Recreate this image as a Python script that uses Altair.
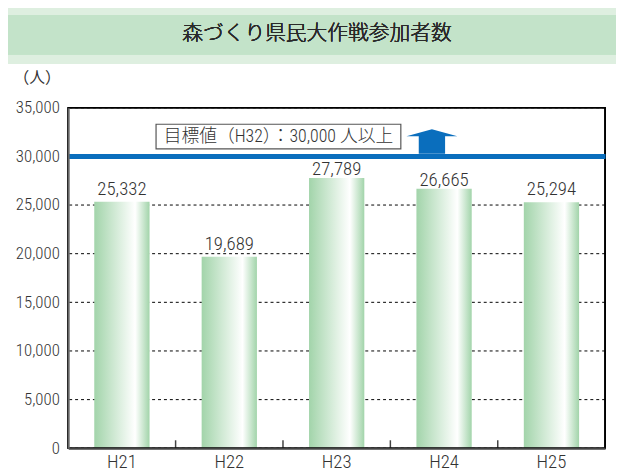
import altair as alt
import pandas as pd

# ---- data ----
years = ["H21", "H22", "H23", "H24", "H25"]
participants = [25332, 19689, 27789, 26665, 25294]
y_ticks = [0, 5000, 10000, 15000, 20000, 25000, 30000, 35000]
target_value = 30000
title_text = "森づくり県民大作戦参加者数"
unit_text = "（人）"
target_text = "目標値（H32）：30,000 人以上"
near_line_years = ["H23", "H24"]

df = pd.DataFrame({"year": years, "value": participants})
grid_df = pd.DataFrame({"value": y_ticks})
tick_df = pd.DataFrame({"year": years[1:]})

# ---- style ----
W, H = 544, 345
NUM = "Roboto Condensed, Liberation Sans, sans-serif"
JP = "Roboto Condensed, Noto Sans CJK JP, sans-serif"
TXT = "#333333"
BLUE = "#0a6ebd"
OUTER = "#deefe0"
BAND = "#c3e3c9"

xs = alt.Scale(domain=years, paddingInner=0, paddingOuter=0)
ys = alt.Scale(domain=[0, 35000], nice=False, zero=True)

x_axis = alt.Axis(title=None, labelAngle=0, ticks=False, grid=False,
                  domainColor="#444444", domainWidth=2,
                  labelFont=NUM, labelFontSize=19, labelFontWeight=300, labelColor=TXT,
                  labelPadding=4, labelBaseline="top", zindex=1)
y_axis = alt.Axis(values=y_ticks, format=",", labelExpr="format(datum.value, ',')",
                  ticks=False, grid=False,
                  domainColor="#666666", domainWidth=2,
                  labelFont=NUM, labelFontSize=17, labelFontWeight=300, labelColor=TXT,
                  labelPadding=9,
                  title=unit_text, titleAngle=0, titleX=-32, titleY=-31,
                  titleAlign="center", titleBaseline="middle",
                  titleFont="Noto Sans CJK JP", titleFontSize=16,
                  titleFontWeight="normal", titleColor=TXT, zindex=1)

X = alt.X("year:N", scale=xs, sort=years, axis=x_axis)
Y = alt.Y("value:Q", scale=ys, axis=y_axis)

base = alt.Chart(df)

# decorative panels
panel = base.mark_rect(color="white").encode(
    x=alt.value(-61), x2=alt.value(W + 20), y=alt.value(-44), y2=alt.value(H + 40))
band = base.mark_rect(color=BAND).encode(
    x=alt.value(-61), x2=alt.value(W + 20), y=alt.value(-94), y2=alt.value(-54))
title = base.mark_text(text=title_text, font="Noto Sans CJK JP", fontSize=21,
                       fontWeight=300, color="#2a2a2a", align="center", baseline="middle").encode(
    x=alt.value(252), y=alt.value(-75))

# dashed grid
grid = alt.Chart(grid_df).mark_rule(color="black", strokeWidth=1, strokeDash=[3, 3]).encode(y=Y)

grad = alt.Gradient(gradient="linear", x1=0, x2=1, y1=0, y2=0, stops=[
    alt.GradientStop(offset=0, color="#a2d4aa"),
    alt.GradientStop(offset=0.74, color="#ffffff"),
    alt.GradientStop(offset=1, color="#a2d4aa"),
])

bars = base.mark_bar(size=56, color=grad).encode(x=X, y=Y)

is_near = alt.FieldOneOfPredicate(field="year", oneOf=near_line_years)
labels_far = base.transform_filter(~alt.Predicate(is_near)).mark_text(
    font=NUM, fontSize=19, fontWeight=300, color=TXT, baseline="alphabetic", dy=-7).encode(
    x=X, y=Y, text=alt.Text("value:Q", format=","))
labels_near = base.transform_filter(is_near).mark_text(
    font=NUM, fontSize=19, fontWeight=300, color=TXT, baseline="alphabetic", dy=-3).encode(
    x=X, y=Y, text=alt.Text("value:Q", format=","))

inner_ticks = alt.Chart(tick_df).mark_rule(color="#444444", strokeWidth=1.5).encode(
    x=alt.X("year:N", scale=xs, sort=years, bandPosition=0, axis=x_axis),
    y=alt.YDatum(0, scale=ys, axis=y_axis), y2=alt.datum(820))

frame = base.mark_rect(fill=None, stroke="black", strokeWidth=1.2).encode(
    x=alt.value(0), x2=alt.value("width"), y=alt.value(0), y2=alt.value("height"))

target_line = base.mark_rule(color=BLUE, strokeWidth=5).encode(
    y=alt.YDatum(target_value, scale=ys, axis=y_axis))

box_df = pd.DataFrame({"year": ["H22"], "value": [32038], "t": [target_text]})
box = alt.Chart(box_df).mark_point(
    shape="M-1,-0.1008L1,-0.1008L1,0.1008L-1,0.1008Z", size=248 * 248,
    filled=True, fill="white", stroke="#555555", strokeWidth=1.2, opacity=1, xOffset=49.8).encode(
    x=X, y=Y)
box_text = alt.Chart(box_df).mark_text(font=JP, fontSize=18, fontWeight=300, color=TXT,
                                       align="center", baseline="middle", xOffset=49.8, dy=0.5).encode(
    x=X, y=Y, text="t:N")

arrow_df = pd.DataFrame({"year": ["H24"], "value": [31551]})
arrow = alt.Chart(arrow_df).mark_point(
    shape="M0,-0.477L1,-0.194L0.517,-0.194L0.517,0.49L-0.517,0.49L-0.517,-0.194L-1,-0.194Z",
    size=2663, filled=True, fill=BLUE, strokeWidth=0, opacity=1, xOffset=-12.3).encode(
    x=X, y=Y)

chart = alt.layer(panel, band, title, grid, bars, labels_far, labels_near, inner_ticks, frame,
                  target_line, box, box_text, arrow).properties(
    width=W, height=H, autosize="none",
    padding={"left": 61, "top": 98, "right": 11, "bottom": 21},
    background=OUTER,
).configure_view(stroke=None)

chart.save("out.html", embed_options={"renderer": "svg", "actions": False})
